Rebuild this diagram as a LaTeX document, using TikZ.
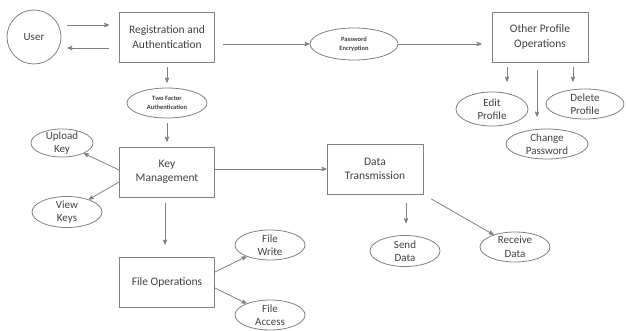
\documentclass[tikz,border=0pt]{standalone}
\usepackage{fontspec}
\setmainfont{Carlito}
\usetikzlibrary{arrows, shapes.geometric}

\begin{document}
\begin{tikzpicture}[->,>=stealth',x=1pt,y=-1pt,line width=0.8pt,
                    every node/.style={text=black!75,align=center}]
  \tikzstyle{block}=[rectangle,draw=gray,minimum width=95pt,minimum height=50pt,
                     font=\fontsize{11.5}{14.5}\selectfont]
  \tikzstyle{oval}=[ellipse,draw=gray,minimum width=70pt,minimum height=30pt,inner sep=-3.5pt,
                    font=\fontsize{11}{13.5}\selectfont]
  \tikzstyle{tiny oval}=[oval,font=\fontsize{6.5}{9}\selectfont\bfseries]
  \tikzstyle{every edge}=[draw=gray]
  \useasboundingbox (0,0) rectangle (626,331);

  \node[circle,draw=gray,minimum size=54pt,font=\fontsize{11}{13}\selectfont] (U) at (34,37) {User};
  \node[block]            (R)   at (167,37)  {Registration and\\Authentication};
  \node[tiny oval,minimum width=88pt,minimum height=32pt] (PE) at (354,44) {Password\\Encryption};
  \node[block,minimum width=96pt] (O) at (540,37) {Other Profile\\Operations};
  \node[oval,minimum width=72pt,minimum height=34pt] (EP) at (492,109) {Edit\\Profile};
  \node[oval,minimum width=78pt] (DP) at (585,104) {Delete\\Profile};
  \node[oval,minimum width=82pt] (CP) at (547,144) {Change\\Password};
  \node[tiny oval,minimum width=80pt] (TF) at (167,103) {Two Factor\\Authentication};
  \node[block]            (K)   at (167,172) {Key\\Management};
  \node[oval,minimum width=62pt,minimum height=28pt] (UK) at (62,143) {Upload\\Key};
  \node[oval,minimum height=31pt] (VK) at (67,212) {View\\Keys};
  \node[block,minimum width=96pt] (DT) at (375,169) {Data\\Transmission};
  \node[oval,minimum height=31pt] (SD) at (405,251) {Send\\Data};
  \node[oval]             (RD)  at (515,247) {Receive\\Data};
  \node[block]            (FO)  at (167,282) {File Operations};
  \node[oval]             (FW)  at (270,245) {File\\Write};
  \node[oval]             (FA)  at (270,315) {File\\Access};

  \path ([yshift=12pt]U.east)   edge [shorten <=6pt,shorten >=10pt] ([yshift=12pt]R.west)
        ([yshift=-11pt]R.west)  edge [shorten <=10pt,shorten >=6pt] ([yshift=-11pt]U.east)
        (R.east |- PE.west)     edge [shorten <=8pt]                (PE)
        (PE)                    edge [shorten >=10pt]               (O.west |- PE.east)
        ([xshift=-33pt]O.south) edge [shorten <=5pt,shorten >=10pt] ([xshift=-33pt]O.south |- EP.north)
        ([xshift=-3pt]O.south)  edge [shorten <=8pt,shorten >=12pt] ([xshift=-3pt]O.south |- CP.north)
        ([xshift=33pt]O.south)  edge [shorten <=5pt,shorten >=7pt]  ([xshift=33pt]O.south |- DP.north)
        (R.south)               edge [shorten <=5pt,shorten >=5pt]  (TF.north)
        (TF.south)              edge [shorten <=5pt,shorten >=5pt]  (K.north)
        ([yshift=2pt]K.west)    edge                                (UK)
        ([yshift=-10pt]K.west)  edge                                (VK)
        (K.east |- DT.west)     edge                                (DT.west)
        ([xshift=31pt]DT.south) edge [shorten <=9pt,shorten >=12pt] ([xshift=31pt]DT.south |- SD.north)
        (DT.south east)         edge [shorten <=9pt]                (RD)
        ([xshift=-2pt]K.south)  edge [shorten <=6pt,shorten >=12pt] ([xshift=-2pt]FO.north)
        ([yshift=10pt]FO.east)  edge                                (FW)
        ([yshift=-6pt]FO.east)  edge                                (FA);
\end{tikzpicture}
\end{document}
